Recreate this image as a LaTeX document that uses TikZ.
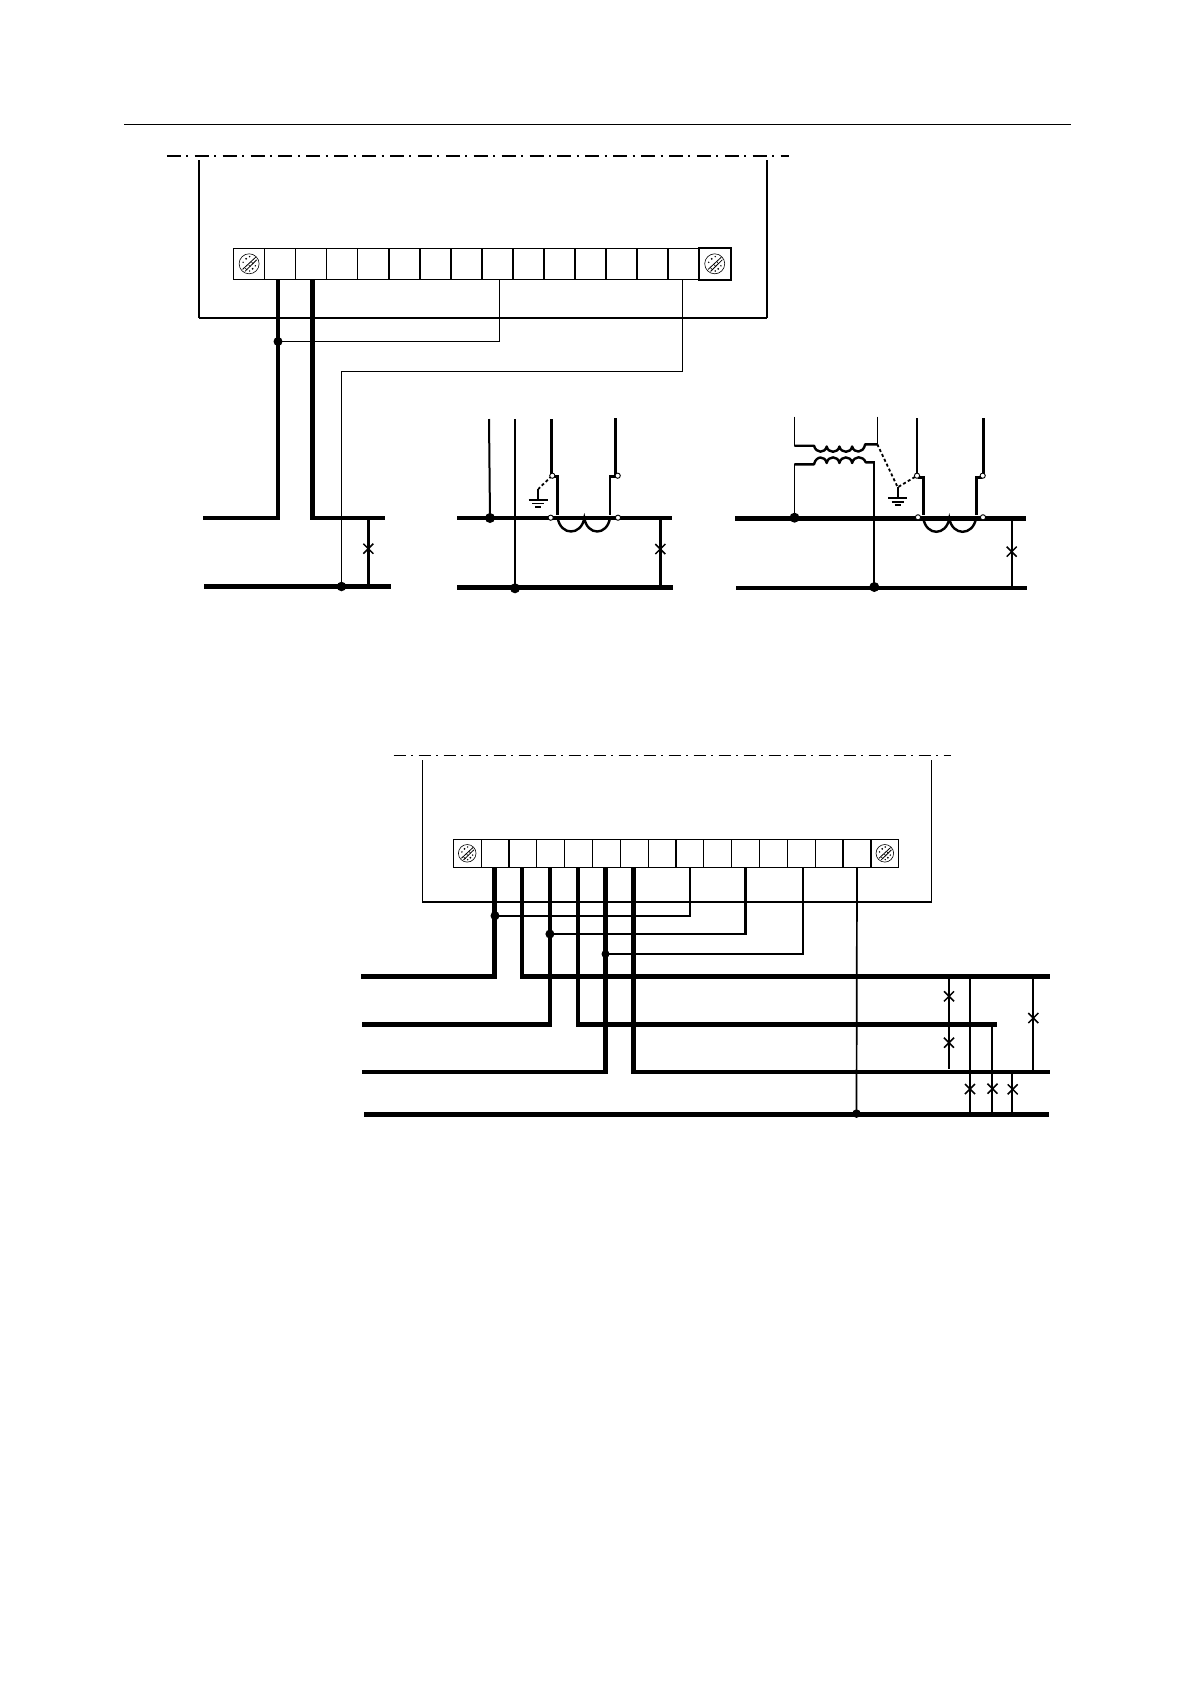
\documentclass[tikz,border=0pt]{standalone}
\usetikzlibrary{calc}
\tikzset{
  wthick/.style={line width=4.2pt,line cap=butt,line join=miter},
  bus/.style={line width=4.7pt,line cap=butt},
  wmed/.style={line width=2.6pt,line join=miter},
  wthin/.style={line width=1.2pt,line join=miter},
  frame/.style={line width=1.3pt,line join=miter},
  celltop/.style={draw,line width=1.4pt,inner sep=0pt,fill=white,minimum width=31.04pt,minimum height=31pt},
  cellbot/.style={draw,line width=1.2pt,inner sep=0pt,fill=white,minimum width=27.82pt,minimum height=28pt},
  dotj/.style={circle,fill=black,inner sep=0pt,minimum size=#1},
  ring/.style={circle,draw,fill=white,line width=0.9pt,inner sep=0pt,minimum size=5.2pt},
  sdash/.style={line width=1.8pt,dash pattern=on 3pt off 2.4pt},
  screwmark/.pic={
    \draw[line width=0.6pt] (0,0) circle (#1);
    \draw[line width=0.8pt] (-0.66*#1,0.56*#1) -- (0.66*#1,-0.66*#1);
    \draw[line width=0.8pt] (-0.42*#1,0.76*#1) -- (0.76*#1,-0.4*#1);
    \draw[line width=0.6pt] (-0.4*#1,0.44*#1) -- (-0.18*#1,0.62*#1);
    \draw[line width=0.6pt] (-0.05*#1,0.1*#1) -- (0.13*#1,0.3*#1);
    \draw[line width=0.6pt] (0.22*#1,-0.2*#1) -- (0.4*#1,0);
    \fill (-0.3*#1,-0.5*#1) circle (1pt);
    \fill (-0.6*#1,-0.15*#1) circle (0.8pt);
    \fill (0.05*#1,-0.72*#1) circle (0.8pt);
    \fill (0.35*#1,0.5*#1) circle (1pt);
    \fill (0.62*#1,0.2*#1) circle (0.8pt);
    \fill (0.05*#1,0.72*#1) circle (0.8pt);
  },
  xmark/.pic={
    \draw[line width=1.5pt] (-5,-5) -- (5,5) (-5,5) -- (5,-5);
  }
}
% ground symbol at (x,y) = top of stem
\newcommand{\groundsym}[2]{%
  \draw[line width=1.8pt] (#1,#2) -- (#1,#2+11);
  \draw[line width=1.8pt] (#1-9.5,#2+11) -- (#1+9.5,#2+11);
  \draw[line width=1.8pt] (#1-6,#2+14.4) -- (#1+6,#2+14.4);
  \draw[line width=1.8pt] (#1-3,#2+17.6) -- (#1+3,#2+17.6);
}
% two large coil loops below the bus
\newcommand{\mainloops}[4]{%
  \draw[line width=2.4pt] (#1,#4) .. controls (#1+3,#4+18) and (#2-3,#4+18) .. (#2,#4)
     .. controls (#2+3,#4+18) and (#3-3,#4+18) .. (#3,#4);
}
\begin{document}
\begin{tikzpicture}[x=1pt,y=-1pt]
\useasboundingbox (0,0) rectangle (1190,1684);
\fill[white] (0,0) rectangle (1190,1684);

% header rule
\coordinate (ruleL) at (124,124.5);
\coordinate (ruleR) at (1071,124.5);
\draw[line width=1.3pt] (ruleL) -- (ruleR);

% ===== upper cabinet =====
\coordinate (dashAL) at (166.8,156);
\coordinate (dashAR) at (789,156);
\draw[line width=2pt,dash pattern=on 14pt off 5.4pt on 2pt off 6.5pt] (dashAL) -- (dashAR);
\coordinate (frameATL) at (198.9,160);
\coordinate (frameATR) at (766.9,160);
\coordinate (frameABL) at (198.9,318);
\coordinate (frameABR) at (766.9,318);
\draw[frame] (frameATL) -- (frameABL);
\draw[frame] (frameATR) -- (frameABR);
\draw[line width=2.2pt] (frameABL) -- (frameABR);

\foreach \i in {0,...,15}
  \node[celltop] (a\i) at ({233.6+31.04*(\i+0.5)},263.8) {};
\draw[line width=2pt] (a15.south west) rectangle (a15.north east);
\pic at (a0.center) {screwmark=10};
\pic at (a15.center) {screwmark=10};

% upper feeder wires
\coordinate (aW1) at (278,279.3);
\coordinate (aW2) at (312.4,279.3);
\coordinate (aW8) at (499.5,279.3);
\coordinate (aW14) at (682.5,279.3);
\coordinate (aJ) at (278,341.5);
\coordinate (aBusTopL) at (203.3,518);
\coordinate (aBusTopR) at (385,518);
\coordinate (aBotL) at (204,586.5);
\coordinate (aBotR) at (391,586.5);
\coordinate (aN) at (341.5,586.5);
\coordinate (aBrTop) at (368.3,518);
\coordinate (aBrBot) at (368.3,586.5);
\draw[wthick] (aW1) -- (aW1 |- aBusTopL) -- (aBusTopL);
\draw[wthick] (aW2) -- (aW2 |- aBusTopR) -- (aBusTopR);
\draw[wthin] (aW8) |- (aJ);
\draw[wthin] (aW14) -- (682.5,371.5) -- (341.5,371.5) -- (aN);
\draw[bus] (aBotL) -- (aBotR);
\draw[wmed] (aBrTop) -- (aBrBot);
\node[dotj=9pt] (aJd) at (aJ) {};
\node[dotj=9.5pt] (aNd) at (aN) {};
\pic at (368.3,548.7) {xmark};

% ===== middle unit =====
\coordinate (mBusTL) at (457,518);
\coordinate (mBusTR) at (672,518);
\coordinate (mBusBL) at (457,587.5);
\coordinate (mBusBR) at (673,587.5);
\coordinate (mJ1) at (490,518);
\coordinate (mJ2) at (515,588.3);
\draw[bus] (mBusTL) -- (mBusTR);
\draw[bus] (mBusBL) -- (mBusBR);
\draw[line width=2pt] (489,419) -- (mJ1);
\draw[line width=2pt] (515,419) -- (mJ2);
\node[dotj=10pt] (mJ1d) at (mJ1) {};
\node[dotj=10pt] (mJ2d) at (mJ2) {};
\draw[line width=2.6pt] (551.7,419) -- (551.7,475);
\draw[line width=2.6pt] (615.7,418) -- (615.7,475);
\draw[line width=2.6pt] (553,476.7) -- (557.7,476.7) -- (557.7,514.5);
\draw[line width=2.6pt] (616,476.7) -- (610,476.7) -- (610,514.5);
\mainloops{557.7}{584.3}{610}{518}
\draw[sdash] (551.7,476) -- (538.3,489);
\groundsym{538}{489}
\node[ring] (mR1) at (552.3,475.7) {};
\node[ring] (mR2) at (617.7,475.7) {};
\node[ring] (mR3) at (550.7,517.7) {};
\node[ring] (mR4) at (618,517.7) {};
\draw[wmed] (660.3,518) -- (660.3,587.5);
\pic at (660.3,549) {xmark};

% ===== right unit =====
\coordinate (rBusTL) at (735,518.5);
\coordinate (rBusTR) at (1025.7,518.5);
\coordinate (rBusBL) at (736,587.5);
\coordinate (rBusBR) at (1026.7,587.5);
\coordinate (rJ1) at (794.5,517.7);
\coordinate (rJ2) at (874.3,587);
\draw[bus] (rBusTL) -- (rBusTR);
\draw[line width=4pt] (rBusBL) -- (rBusBR);
% transformer
\draw[line width=1.6pt] (794.5,416.7) -- (794.5,445.7);
\draw[line width=1.6pt] (877.5,416.7) -- (877.5,444.3);
\draw[line width=2.4pt,line join=round] (794.3,445.7) -- (814,445.7)
  .. controls (816,453.5) and (825,453.5) .. (826.7,446.5)
  .. controls (828,453.5) and (838,453.5) .. (839.4,446.5)
  .. controls (841,453.5) and (851,453.5) .. (852.1,446.5)
  .. controls (854,453.5) and (863,453.5) .. (865,445)
  -- (865,444.3) -- (877.3,444.3);
\draw[line width=2.4pt,line join=round] (794.3,464.3) -- (814,464.3)
  .. controls (816,455.5) and (825,455.5) .. (826.7,463)
  .. controls (828,455.5) and (838,455.5) .. (839.4,463)
  .. controls (841,455.5) and (851,455.5) .. (852.1,463)
  .. controls (854,455.5) and (863,455.5) .. (865.7,462.3)
  -- (874,462.3);
\draw[line width=1.6pt] (794.5,464.3) -- (rJ1);
\draw[line width=2pt] (874.3,461.3) -- (rJ2);
\node[dotj=10pt] (rJ1d) at (rJ1) {};
\node[dotj=10pt] (rJ2d) at (rJ2) {};
\draw[line width=2.2pt] (917,418.3) -- (917,475);
\draw[line width=2.4pt] (983.3,418.3) -- (983.3,475);
\draw[line width=2.4pt] (918,477.3) -- (923.3,477.3) -- (923.3,515);
\draw[line width=2.4pt] (982,477.3) -- (976.3,477.3) -- (976.3,515);
\mainloops{923.3}{949.3}{976}{518.3}
\draw[sdash] (877.3,444.3) -- (897.7,487.3) -- (917,475.7);
\groundsym{897.7}{487.3}
\node[ring] (rR1) at (917,475.7) {};
\node[ring] (rR2) at (982.7,475.7) {};
\node[ring] (rR3) at (918,517.3) {};
\node[ring] (rR4) at (983,517.3) {};
\draw[wmed] (1012,518.5) -- (1012,587.5);
\pic at (1011.7,551.7) {xmark};

% ===== lower cabinet =====
\coordinate (dashBL) at (393.7,755.5);
\coordinate (dashBR) at (951,755.5);
\draw[line width=1.9pt,dash pattern=on 12.5pt off 5pt on 2pt off 5.5pt] (dashBL) -- (dashBR);
\draw[line width=1.1pt,line join=miter] (422.5,760) -- (422.5,902) -- (931.6,902) -- (931.6,760);
\foreach \i in {0,...,15}
  \node[cellbot] (b\i) at ({453.3+27.84*(\i+0.5)},853.3) {};
\pic at (b0.center) {screwmark=8.8};
\pic at (b15.center) {screwmark=8.8};

% lower buses
\coordinate (W1) at (494.5,867.3);
\coordinate (W2) at (521.9,867.3);
\coordinate (W3) at (549.9,867.3);
\coordinate (W4) at (578.1,867.3);
\coordinate (W5) at (605.5,867.3);
\coordinate (W6) at (633.6,867.3);
\coordinate (W8) at (690,867.3);
\coordinate (W10) at (745.5,867.3);
\coordinate (W12) at (803.2,867.3);
\coordinate (W14) at (857,867.3);
\coordinate (L1) at (361,976.5);
\coordinate (R1) at (1050,976.5);
\coordinate (L2) at (362,1024.5);
\coordinate (R2) at (996.7,1024.5);
\coordinate (L3) at (362,1071.7);
\coordinate (R3) at (1050,1071.7);
\coordinate (L4) at (364,1114.5);
\coordinate (R4) at (1049,1114.5);
\coordinate (Ja) at (495,915.7);
\coordinate (Jb) at (549.9,934);
\coordinate (Jc) at (605.5,954);
\coordinate (Jn) at (856.5,1113.6);
\draw[line width=4.4pt] (W1) -- (W1 |- L1) -- (L1);
\draw[wthick] (W2) -- (W2 |- R1) -- (R1);
\draw[wthick] (W3) -- (W3 |- L2) -- (L2);
\draw[wthick] (W4) -- (W4 |- R2) -- (R2);
\draw[line width=4.4pt] (W5) -- (W5 |- L3) -- (L3);
\draw[line width=4.4pt] (W6) -- (W6 |- R3) -- (R3);
\draw[bus] (L4) -- (R4);
\draw[line width=2.2pt] (W8) |- (Ja);
\draw[line width=2.2pt] (W10) |- (Jb);
\draw[line width=2.2pt] (W12) |- (Jc);
\draw[line width=1.7pt] (W14) -- (Jn);
\node[dotj=9pt] (Jad) at (Ja) {};
\node[dotj=9pt] (Jbd) at (Jb) {};
\node[dotj=8pt] (Jcd) at (Jc) {};
\node[dotj=8.5pt] (Jnd) at (Jn) {};

% phase branches
\draw[wmed] (949,976.5) -- (949,1068.7);
\draw[wmed] (970,976.5) -- (970,1114.5);
\draw[wmed] (992,1024.5) -- (992,1114.5);
\draw[wmed] (1012,1071.7) -- (1012,1114.5);
\draw[wmed] (1033,976.5) -- (1033,1071.7);
\pic at (949,996.3) {xmark};
\pic at (949,1042.7) {xmark};
\pic at (970,1089) {xmark};
\pic at (992.5,1088.7) {xmark};
\pic at (1012.7,1089.3) {xmark};
\pic at (1033.3,1018) {xmark};
\end{tikzpicture}
\end{document}
